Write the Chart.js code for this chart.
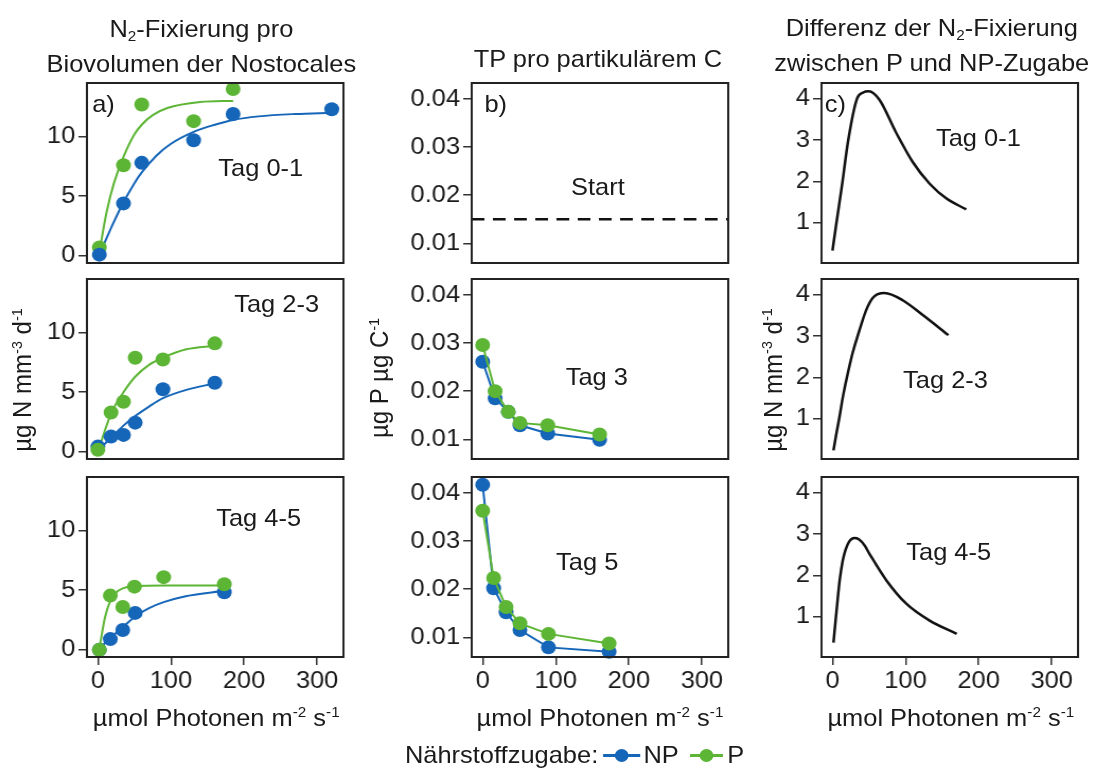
<!DOCTYPE html>
<html>
<head>
<meta charset="utf-8">
<script src="https://cdn.jsdelivr.net/npm/chart.js@4.4.0/dist/chart.umd.min.js"></script>
<style>
  body { margin: 0; background: #fff; }
  #fig {
    position: relative; width: 1034px; height: 774px;
    transform: scaleX(1.06); transform-origin: 0 0;
    font-family: "Liberation Sans", Arial, sans-serif; font-size: 24px; color: #1a1a1a;
  }
  .t { position: absolute; white-space: nowrap; line-height: 24px; }
  .c { transform: translateX(-50%); text-align: center; }
  .r { transform: translate(-50%, -50%) rotate(-90deg); }
  sup { font-size: 0.6em; vertical-align: baseline; position: relative; top: -0.65em; }
  sub { font-size: 0.6em; vertical-align: baseline; position: relative; top: 0.25em; }
  canvas { position: absolute; }
  .ln { position: absolute; height: 3px; }
  .dot { position: absolute; width: 13px; height: 13px; border-radius: 50%; }
</style>
</head>
<body>
<div id="fig">
  <div class="t c" style="left:190px;top:13px;line-height:31px">N<sub>2</sub>-Fixierung pro<br>Biovolumen der Nostocales</div>
  <div class="t c" style="left:564px;top:47px">TP pro partikulärem C</div>
  <div class="t c" style="left:879px;top:12px;line-height:32px">Differenz der N<sub>2</sub>-Fixierung<br>zwischen P und NP-Zugabe</div>

  <div class="t" style="left:87px;top:92px">a)</div>
  <div class="t" style="left:457px;top:92px">b)</div>
  <div class="t" style="left:778px;top:92px">c)</div>

  <div class="t c" style="left:246px;top:156px">Tag 0-1</div>
  <div class="t c" style="left:261px;top:292px">Tag 2-3</div>
  <div class="t c" style="left:244px;top:506px">Tag 4-5</div>
  <div class="t c" style="left:564px;top:175px">Start</div>
  <div class="t c" style="left:563px;top:365px">Tag 3</div>
  <div class="t c" style="left:554px;top:550px">Tag 5</div>
  <div class="t c" style="left:923px;top:126px">Tag 0-1</div>
  <div class="t c" style="left:892px;top:368px">Tag 2-3</div>
  <div class="t c" style="left:895px;top:540px">Tag 4-5</div>

  <div class="t r" style="left:23px;top:380px">µg N mm<sup>-3</sup> d<sup>-1</sup></div>
  <div class="t r" style="left:360px;top:378px">µg P µg C<sup>-1</sup></div>
  <div class="t r" style="left:731px;top:380px">µg N mm<sup>-3</sup> d<sup>-1</sup></div>

  <div class="t c" style="left:204px;top:706px">µmol Photonen m<sup>-2</sup> s<sup>-1</sup></div>
  <div class="t c" style="left:566px;top:706px">µmol Photonen m<sup>-2</sup> s<sup>-1</sup></div>
  <div class="t c" style="left:897px;top:706px">µmol Photonen m<sup>-2</sup> s<sup>-1</sup></div>

  <div class="t" style="left:382px;top:743px">Nährstoffzugabe:</div>
  <div class="ln" style="left:569px;top:754px;width:35px;background:#1565b8"></div>
  <div class="dot" style="left:580px;top:749px;background:#1565b8"></div>
  <div class="t" style="left:607px;top:743px">NP</div>
  <div class="ln" style="left:651px;top:754px;width:31px;background:#5db535"></div>
  <div class="dot" style="left:660px;top:749px;background:#5db535"></div>
  <div class="t" style="left:686px;top:743px">P</div>
</div>

<script>
// ---- colours
const BLUE = "#1565b8";
const GREEN = "#5db535";

// ---- tick labels
const xTicks = [0, 100, 200, 300];
const yTicksA = [0, 5, 10];
const yTicksB = [0.01, 0.02, 0.03, 0.04];
const yTicksC = [1, 2, 3, 4];

// ---- a) N2 fixation per biovolume, Tag 0-1
const xA1np = [2, 35, 60, 131, 185, 320];
const yA1np = [0.1, 4.4, 7.8, 9.7, 11.9, 12.3];
const xA1p = [2, 35, 60, 131, 185];
const yA1p = [0.7, 7.6, 12.7, 11.3, 14.0];
const fitXA1np = [2, 20, 35, 50, 60, 80, 100, 131, 160, 185, 220, 270, 320];
const fitYA1np = [0.1, 2.6, 4.5, 6.1, 7.0, 8.4, 9.4, 10.4, 11.0, 11.4, 11.7, 11.9, 12.0];
const fitXA1p = [2, 12, 22, 35, 50, 60, 75, 95, 140, 185];
const fitYA1p = [0.3, 3.7, 6.1, 8.3, 10.2, 11.0, 11.8, 12.4, 12.9, 13.0];

// ---- a) Tag 2-3
const xA2 = [0, 18, 35, 51, 89, 160];
const yA2np = [0.44, 1.28, 1.42, 2.45, 5.25, 5.8];
const yA2p = [0.17, 3.3, 4.2, 7.9, 7.75, 9.1];
const fitXA2 = [2, 18, 35, 51, 70, 89, 121, 160];
const fitYA2np = [0.2, 1.2, 2.2, 3.0, 3.8, 4.5, 5.2, 5.75];
const fitYA2p = [0.4, 3.2, 5.0, 6.3, 7.3, 7.9, 8.6, 8.9];

// ---- a) Tag 4-5
const xA3np = [2, 17, 34, 51, 173];
const yA3np = [0.0, 0.9, 1.67, 3.1, 4.83];
const xA3p = [2, 17, 34, 50, 90, 173];
const yA3p = [0.0, 4.55, 3.6, 5.3, 6.1, 5.5];
const fitXA3np = [2, 17, 34, 51, 70, 90, 120, 173];
const fitYA3np = [0.1, 1.0, 1.9, 2.8, 3.5, 4.0, 4.5, 4.95];
const fitXA3p = [2, 10, 17, 25, 34, 50, 90, 173];
const fitYA3p = [0.1, 2.8, 4.1, 4.8, 5.15, 5.35, 5.4, 5.4];

// ---- b) TP per particulate C
const startX = [-15, 336];
const startY = [0.015, 0.015];
const xB2 = [0, 17, 35, 51, 89, 160];
const yB2np = [0.0261, 0.0185, 0.0157, 0.0129, 0.0112, 0.0099];
const yB2p = [0.0296, 0.0200, 0.0157, 0.0134, 0.0129, 0.0110];
const xB3 = [0, 15, 32, 51, 90, 173];
const yB3np = [0.0417, 0.0202, 0.0152, 0.0115, 0.0079, 0.0070];
const yB3p = [0.0363, 0.0223, 0.0163, 0.0129, 0.0107, 0.0087];

// ---- c) difference P - NP
const xC1 = [0, 5.5, 13.8, 21.6, 33.6, 42, 49.7, 64, 87, 110, 133, 156, 183];
const yC1 = [0.32, 1, 2, 3, 4, 4.15, 4.18, 3.98, 3.18, 2.46, 1.94, 1.58, 1.32];
const xC2 = [1.4, 5, 9.2, 14, 19.8, 27, 34.5, 46, 55, 71, 96.6, 124, 158.6];
const yC2 = [0.23, 0.6, 1, 1.5, 2, 2.55, 3, 3.62, 3.92, 4.04, 3.86, 3.5, 3.02];
const xC3 = [1.4, 4, 7, 10, 14, 18, 23, 30, 36, 44, 50.6, 73.6, 101, 133, 170];
const yC3 = [0.37, 0.85, 1.4, 1.9, 2.35, 2.62, 2.82, 2.9, 2.87, 2.72, 2.52, 1.88, 1.31, 0.9, 0.58];

const zip = (xs, ys) => xs.map((x, i) => ({ x: x, y: ys[i] }));

function pts(xs, ys, color) {
  return { data: zip(xs, ys), showLine: false, pointRadius: 7, pointBackgroundColor: color,
           pointBorderWidth: 0, clip: false };
}
function fit(xs, ys, color, width) {
  return { data: zip(xs, ys), showLine: true, pointRadius: 0, borderColor: color,
           borderWidth: width || 2, cubicInterpolationMode: "monotone", clip: false };
}
function joined(xs, ys, color) {
  return { data: zip(xs, ys), showLine: true, pointRadius: 7, borderColor: color, borderWidth: 2,
           pointBackgroundColor: color, pointBorderWidth: 0, clip: false };
}

// draw the black frame round every panel
Chart.register({
  id: "frame",
  afterDatasetsDraw(chart) {
    const a = chart.chartArea, ctx = chart.ctx;
    ctx.save();
    ctx.strokeStyle = "#222";
    ctx.lineWidth = 2;
    ctx.strokeRect(a.left, a.top, a.right - a.left, a.bottom - a.top);
    ctx.restore();
  }
});

const fig = document.getElementById("fig");
// PAD_T has to cover half a tick label, else Chart.js pushes the plot area down
const BOX_W = 241.5, BOX_H = 180, PAD_T = 18, PAD_R = 8, X_AX_H = 44;

function makePanel(boxLeft, boxTop, yW, yMin, yMax, yTicks, yFmt, showX, datasets) {
  const c = document.createElement("canvas");
  const w = Math.round(yW + BOX_W + PAD_R);
  const h = PAD_T + BOX_H + (showX ? X_AX_H : PAD_T);
  c.width = w; c.height = h;
  c.style.width = w + "px"; c.style.height = h + "px";
  c.style.left = (boxLeft - yW) + "px"; c.style.top = (boxTop - PAD_T) + "px";
  fig.appendChild(c);

  const tickGrid = { drawOnChartArea: false, drawTicks: true, tickLength: 8, color: "#333", lineWidth: 1.5 };
  const tickFont = { family: '"Liberation Sans", Arial, sans-serif', size: 24 };

  new Chart(c, {
    type: "scatter",
    data: { datasets: datasets },
    options: {
      responsive: false,
      animation: false,
      devicePixelRatio: 1,
      layout: { padding: { top: PAD_T, right: PAD_R, bottom: showX ? 0 : PAD_T, left: 0 } },
      plugins: { legend: { display: false }, tooltip: { enabled: false } },
      scales: {
        x: {
          type: "linear", min: -15, max: 336, display: showX,
          afterBuildTicks: s => { s.ticks = xTicks.map(v => ({ value: v })); },
          afterFit: s => { s.height = showX ? X_AX_H : 0; },
          grid: tickGrid, border: { display: false },
          ticks: { font: tickFont, color: "#1a1a1a", padding: 2, maxRotation: 0, autoSkip: false }
        },
        y: {
          type: "linear", min: yMin, max: yMax,
          afterBuildTicks: s => { s.ticks = yTicks.map(v => ({ value: v })); },
          afterFit: s => { s.width = yW; },
          grid: tickGrid, border: { display: false },
          ticks: { font: tickFont, color: "#1a1a1a", padding: 3, autoSkip: false, callback: yFmt }
        }
      }
    }
  });
}

const fmtInt = v => String(v);
const fmtB = v => v.toFixed(2);
const rowTop = [83, 279, 477];
const colA = 82, colB = 445, colC = 775;

// column a
makePanel(colA, rowTop[0], 45, -0.6, 14.5, yTicksA, fmtInt, false, [
  pts(xA1np, yA1np, BLUE), pts(xA1p, yA1p, GREEN),
  fit(fitXA1p, fitYA1p, GREEN), fit(fitXA1np, fitYA1np, BLUE)
]);
makePanel(colA, rowTop[1], 45, -0.6, 14.5, yTicksA, fmtInt, false, [
  pts(xA2, yA2p, GREEN), pts(xA2, yA2np, BLUE),
  fit(fitXA2, fitYA2p, GREEN), fit(fitXA2, fitYA2np, BLUE)
]);
makePanel(colA, rowTop[2], 45, -0.6, 14.5, yTicksA, fmtInt, true, [
  pts(xA3p, yA3p, GREEN), pts(xA3np, yA3np, BLUE),
  fit(fitXA3p, fitYA3p, GREEN), fit(fitXA3np, fitYA3np, BLUE)
]);

// column b
makePanel(colB, rowTop[0], 62, 0.0059, 0.0433, yTicksB, fmtB, false, [
  Object.assign(fit(startX, startY, "#111", 2.5), { borderDash: [12, 8], cubicInterpolationMode: "default" })
]);
makePanel(colB, rowTop[1], 62, 0.0059, 0.0433, yTicksB, fmtB, false, [
  joined(xB2, yB2p, GREEN), joined(xB2, yB2np, BLUE)
]);
makePanel(colB, rowTop[2], 62, 0.0059, 0.0433, yTicksB, fmtB, true, [
  joined(xB3, yB3p, GREEN), joined(xB3, yB3np, BLUE)
]);

// column c
makePanel(colC, rowTop[0], 30, 0.02, 4.38, yTicksC, fmtInt, false, [fit(xC1, yC1, "#111", 2.5)]);
makePanel(colC, rowTop[1], 30, 0.02, 4.38, yTicksC, fmtInt, false, [fit(xC2, yC2, "#111", 2.5)]);
makePanel(colC, rowTop[2], 30, 0.02, 4.38, yTicksC, fmtInt, true, [fit(xC3, yC3, "#111", 2.5)]);
</script>
</body>
</html>
